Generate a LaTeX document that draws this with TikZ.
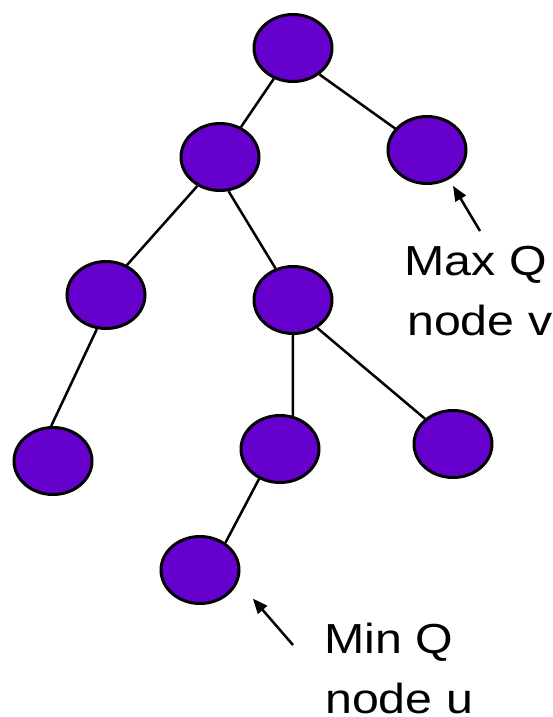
\documentclass[tikz,border=0pt]{standalone}
\usepackage{fontspec}
\newfontfamily\labelfont[FakeStretch=1.15]{Liberation Sans}
\usetikzlibrary{shapes.geometric,arrows.meta}
\definecolor{nodepurple}{HTML}{6600CC}
\begin{document}
\begin{tikzpicture}[x=1pt,y=-1pt,
  treenode/.style={ellipse,draw=black,line width=3pt,fill=nodepurple,
    minimum width=78pt,minimum height=67pt,inner sep=0pt},
  branch/.style={line width=2.5pt},
  pointer/.style={line width=2.5pt,-{Triangle[length=15pt,width=12pt]}},
  caption/.style={anchor=base west,inner sep=0pt,font=\labelfont\fontsize{42}{59}\selectfont}]
\useasboundingbox (0,0) rectangle (553,717);

% tree nodes
\node[treenode] (root) at (293,48) {};
\node[treenode] (A) at (220,157) {};
\node[treenode] (B) at (427,150) {};
\node[treenode] (C) at (106,295) {};
\node[treenode] (D) at (293,300) {};
\node[treenode] (E) at (53,461) {};
\node[treenode] (F) at (280,449) {};
\node[treenode] (G) at (453,444) {};
\node[treenode] (H) at (200,570) {};

% tree edges
\draw[branch] (root.-122) -- (A.55.5);
\draw[branch] (root.-45) -- (B.146);
\draw[branch] (A.-128) -- (C.55);
\draw[branch] (A.-76) -- (D.119);
\draw[branch] (C.-105) -- (E.93);
\draw[branch] (D.-90) -- (F.69);
\draw[branch] (D.-49) -- (G.138);
\draw[branch] (F.-125) -- (H.47);

% captions
\node[caption] (maxq) at (404.5,275.7) {Max Q};
\node[caption] (nodev) at (407,335) {node v};
\node[caption] (minq) at (324.5,653) {Min Q};
\node[caption] (nodeu) at (325,713) {node u};

% pointers to the marked nodes
\coordinate (vtail) at (480,231);
\coordinate (utail) at (293,645);
\draw[pointer,shorten >=7.6pt] (vtail) -- (B.-53);
\draw[pointer,shorten >=22.4pt] (utail) -- (H.-17.5);
\end{tikzpicture}
\end{document}
